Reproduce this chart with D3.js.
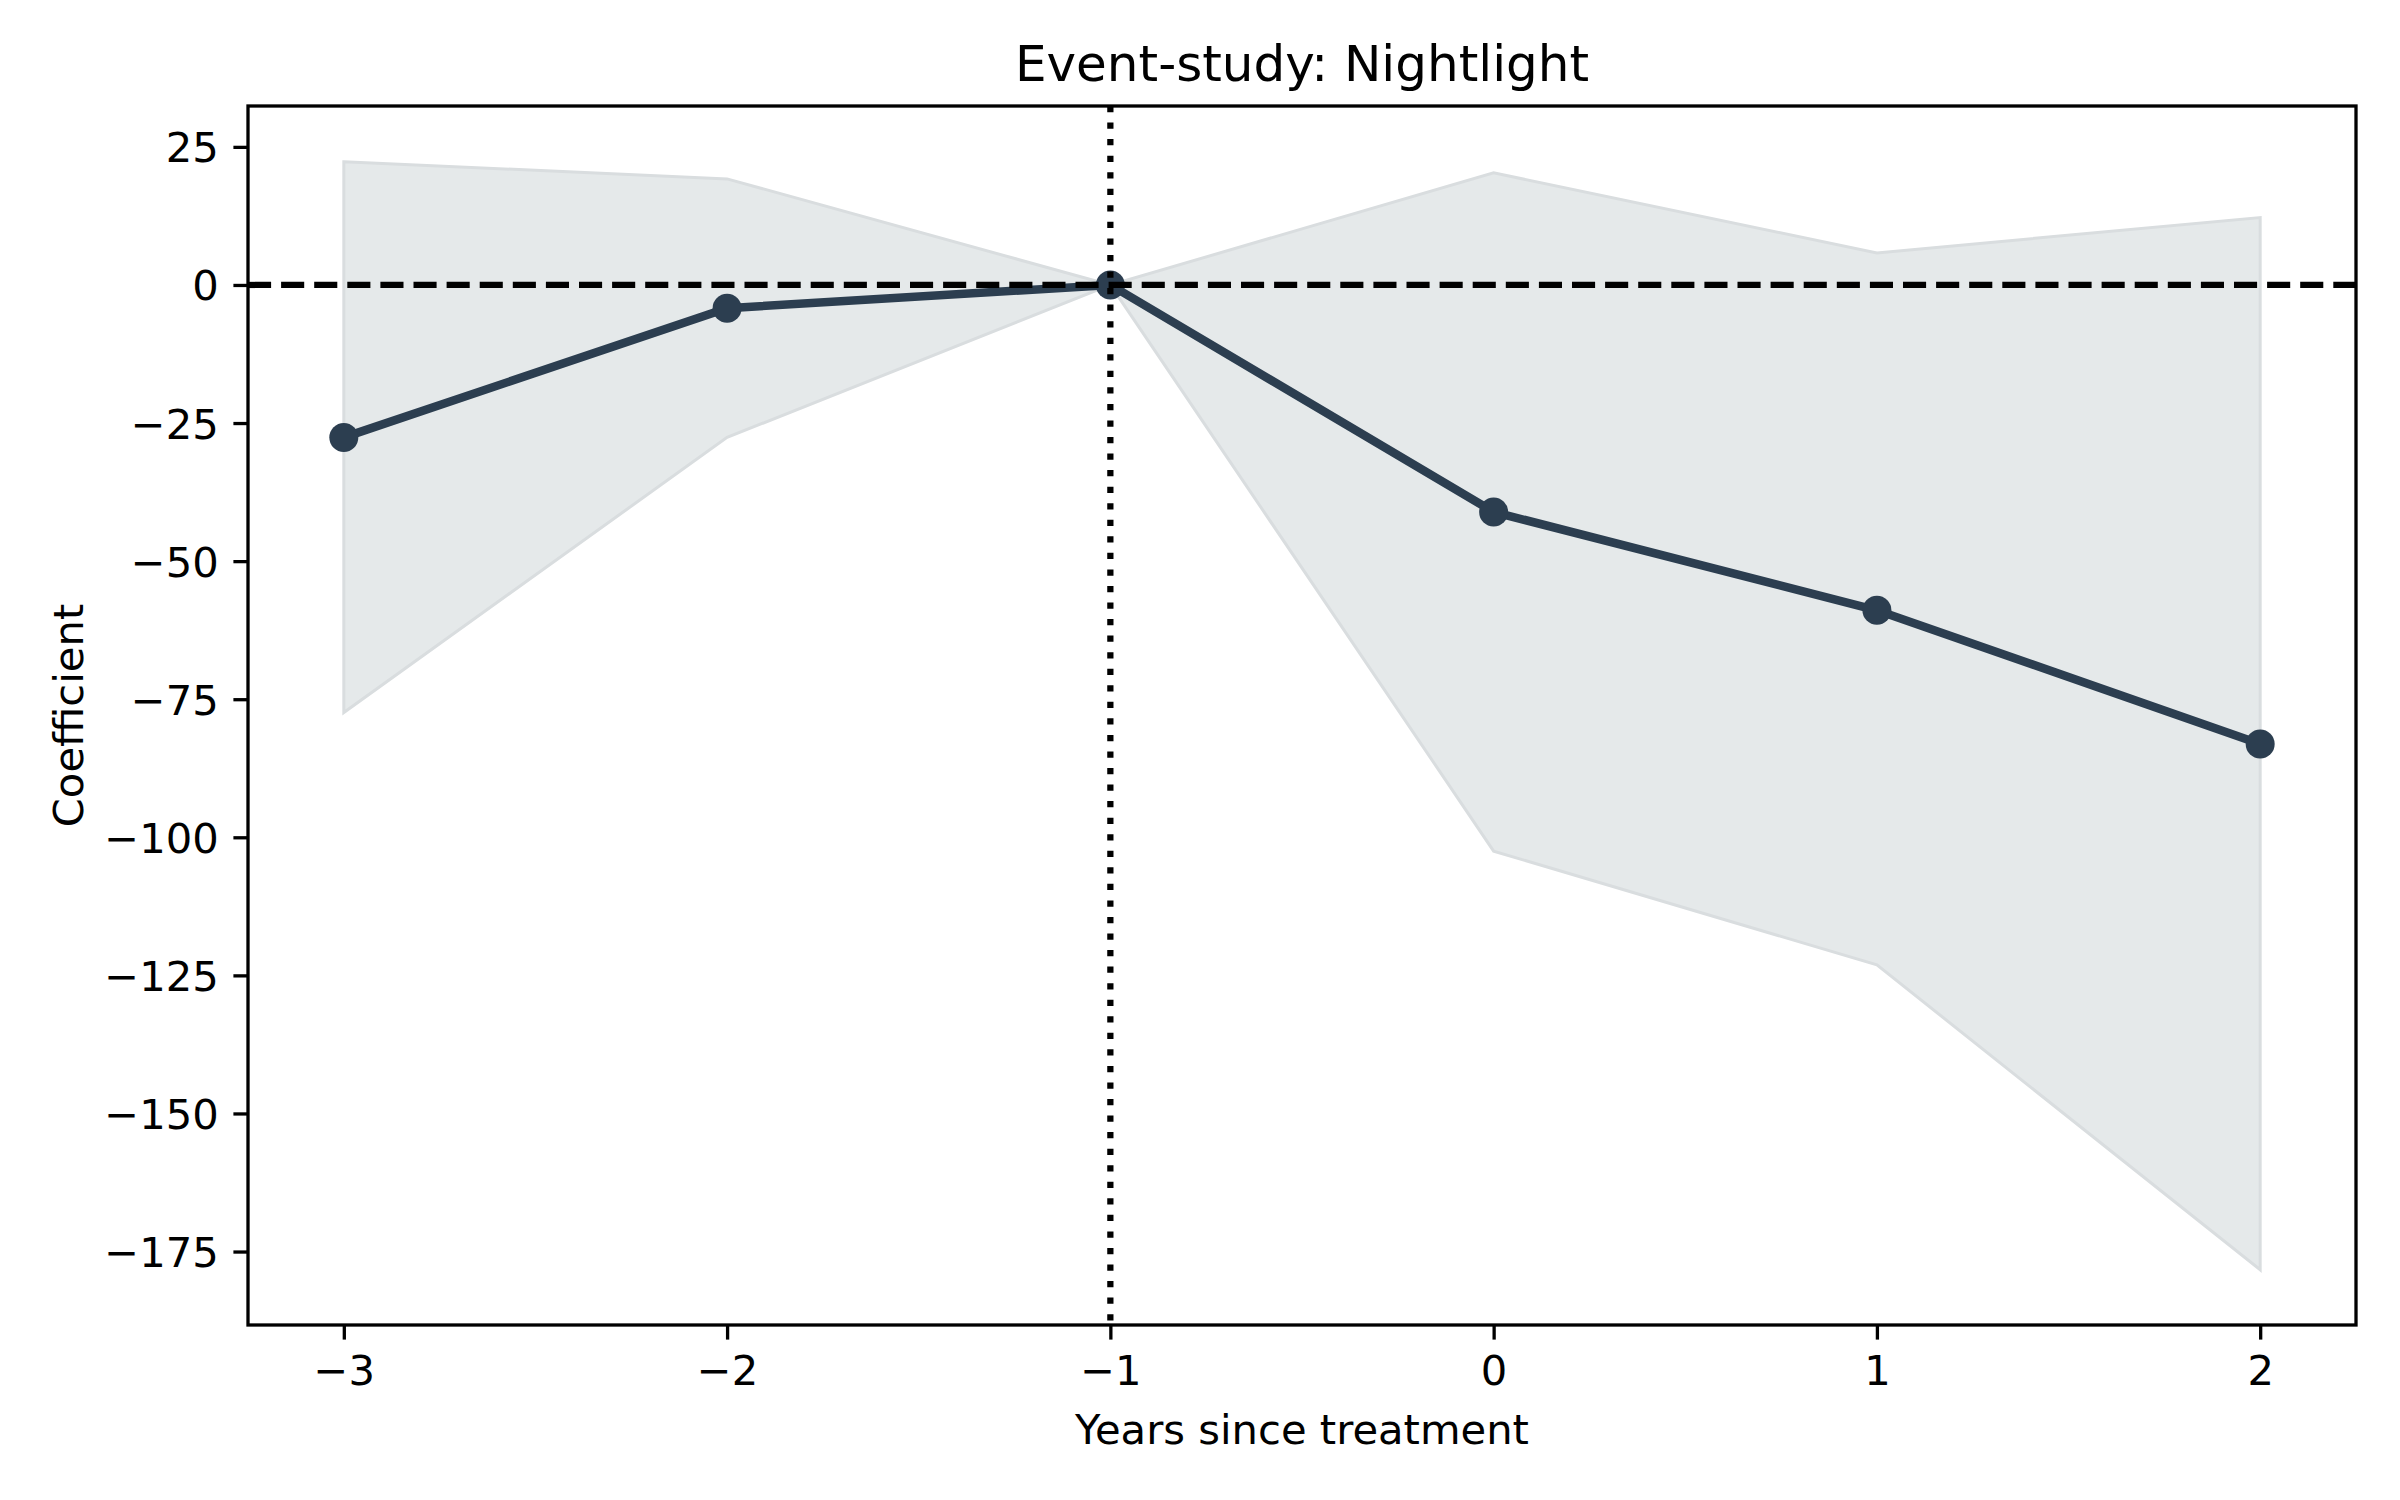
<!DOCTYPE html>
<html>
<head>
<meta charset="utf-8">
<script src="https://cdn.jsdelivr.net/npm/d3@7"></script>
<style>
  body { margin: 0; background: #fff; }
  text { font-family: "DejaVu Sans", sans-serif; fill: #000; }
</style>
</head>
<body>
<div id="graph"></div>
<script>
// event-study estimates
const years = [-3, -2, -1, 0, 1, 2];
const coef = [-27.6, -4.2, 0, -41.1, -58.9, -83.1];
const ciUpper = [22.3, 19.2, 0, 20.3, 5.8, 12.2];
const ciLower = [-77.4, -27.6, 0, -102.5, -123.1, -178.3];
const xTicks = [-3, -2, -1, 0, 1, 2];
const yTicks = [25, 0, -25, -50, -75, -100, -125, -150, -175];

const W = 2400, H = 1500;
const margin = {top: 106, right: 44, bottom: 175, left: 248};
const width = W - margin.left - margin.right,
    height = H - margin.top - margin.bottom;

const x = d3.scaleLinear().domain([-3.25, 2.25]).range([0, width]);
const y = d3.scaleLinear().domain([-188.3, 32.4]).range([height, 0]);

const svg = d3.select("#graph")
    .append("svg")
    .attr("width", W)
    .attr("height", H);

const g = svg.append("g")
    .attr("transform", "translate(" + margin.left + "," + margin.top + ")");

const data = years.map(function (d, i) {
    return {year: d, coef: coef[i], lo: ciLower[i], hi: ciUpper[i]};
});

// confidence band
g.append("path")
    .datum(data)
    .attr("d", d3.area()
        .x(function (d) { return x(d.year); })
        .y0(function (d) { return y(d.lo); })
        .y1(function (d) { return y(d.hi); }))
    .attr("fill", "#e5e9ea")
    .attr("stroke", "#d9dddf")
    .attr("stroke-width", 3);

// coefficient line + markers
g.append("path")
    .datum(data)
    .attr("d", d3.line()
        .x(function (d) { return x(d.year); })
        .y(function (d) { return y(d.coef); }))
    .attr("fill", "none")
    .attr("stroke", "#2c3e50")
    .attr("stroke-width", 8.5);

g.selectAll(".pt")
    .data(data)
    .enter().append("circle")
    .attr("class", "pt")
    .attr("cx", function (d) { return x(d.year); })
    .attr("cy", function (d) { return y(d.coef); })
    .attr("r", 14.5)
    .attr("fill", "#2c3e50");

// reference lines
g.append("line")
    .attr("x1", 0).attr("x2", width)
    .attr("y1", y(0)).attr("y2", y(0))
    .attr("stroke", "#000")
    .attr("stroke-width", 6.25)
    .attr("stroke-dasharray", "23.1,10");

g.append("line")
    .attr("x1", x(-1)).attr("x2", x(-1))
    .attr("y1", 0).attr("y2", height)
    .attr("stroke", "#000")
    .attr("stroke-width", 6.25)
    .attr("stroke-dasharray", "6.25,10.3");

// axes
const xAxis = g.append("g")
    .attr("transform", "translate(0," + height + ")")
    .call(d3.axisBottom(x).tickValues(xTicks).tickSize(14.6).tickPadding(14.6)
        .tickFormat(d3.format("d")));

const yAxis = g.append("g")
    .call(d3.axisLeft(y).tickValues(yTicks).tickSize(14.6).tickPadding(14.6)
        .tickFormat(d3.format("d")));

[xAxis, yAxis].forEach(function (a) {
    a.select(".domain").remove();
    a.selectAll(".tick line").attr("stroke", "#000").attr("stroke-width", 3.3);
    a.selectAll(".tick text")
        .style("font-family", "DejaVu Sans")
        .style("font-size", "41.7px")
        .attr("fill", "#000");
});
xAxis.selectAll(".tick text").attr("dy", "0.73em");
yAxis.selectAll(".tick text").attr("dy", "0.36em");

// frame
g.append("rect")
    .attr("x", 0).attr("y", 0)
    .attr("width", width).attr("height", height)
    .attr("fill", "none")
    .attr("stroke", "#000")
    .attr("stroke-width", 3.3);

// labels
svg.append("text")
    .attr("x", margin.left + width / 2)
    .attr("y", 81)
    .attr("text-anchor", "middle")
    .style("font-size", "50px")
    .text("Event-study: Nightlight");

svg.append("text")
    .attr("x", margin.left + width / 2)
    .attr("y", 1444)
    .attr("text-anchor", "middle")
    .style("font-size", "41.7px")
    .text("Years since treatment");

svg.append("text")
    .attr("transform", "translate(83," + (margin.top + height / 2) + ") rotate(-90)")
    .attr("text-anchor", "middle")
    .style("font-size", "41.7px")
    .text("Coefficient");
</script>
</body>
</html>
